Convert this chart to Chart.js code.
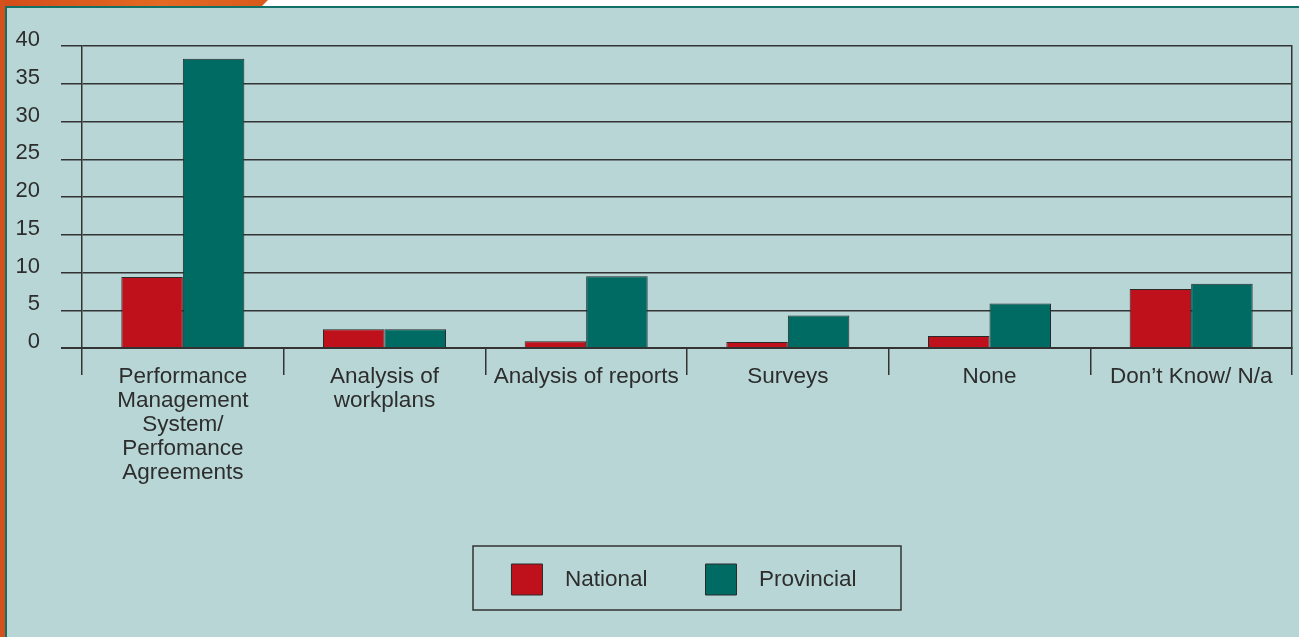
<!DOCTYPE html>
<html lang="en">
<head>
    <meta charset="utf-8">
    <title>Performance monitoring methods</title>
    <script src="https://cdn.jsdelivr.net/npm/chart.js"></script>
    <style>
        body { margin: 0; width: 1299px; height: 637px; overflow: hidden; background: #ffffff; position: relative; }
        #orange-top { position: absolute; left: 0; top: 0; width: 268px; height: 8px;
            background: linear-gradient(90deg, #d24d1a, #e36a22 60%, #d95a1c);
            clip-path: polygon(0 0, 100% 0, 97% 100%, 0 100%); }
        #orange-left { position: absolute; left: 0; top: 0; width: 5px; height: 637px; background: #d4511b; }
        #panel { position: absolute; left: 5px; top: 6px; right: 0; bottom: 0;
            background: #b8d6d6; border-top: 2px solid #137067; border-left: 2px solid #137067; }
        #chart { position: absolute; left: 0; top: 0; }
    </style>
</head>
<body>
    <div id="orange-top"></div>
    <div id="orange-left"></div>
    <div id="panel"></div>
    <canvas id="chart" width="1299" height="637"></canvas>
    <script>
        const categories = [
            ['Performance', 'Management', 'System/', 'Perfomance', 'Agreements'],
            ['Analysis of', 'workplans'],
            'Analysis of reports',
            'Surveys',
            'None',
            'Don\u2019t Know/ N/a'
        ];
        const nationalValues = [9.4, 2.5, 0.9, 0.8, 1.6, 7.8];
        const provincialValues = [38.3, 2.5, 9.5, 4.3, 5.9, 8.5];

        const fontFamily = "'Liberation Sans', Arial, sans-serif";
        const inkColor = '#2d2d2d';
        const lineColor = '#333333';

        // keeps the legend centred on the plot and draws the frame round it
        const legendFrame = {
            id: 'legendFrame',
            afterLayout(chart) {
                const lg = chart.legend;
                const ca = chart.chartArea;
                const shift = (ca.left + ca.right) / 2 - 3 - (lg.left + lg.right) / 2;
                lg.left += shift;
                lg.right += shift;
            },
            afterDraw(chart) {
                const lg = chart.legend;
                const ca = chart.chartArea;
                const cx = (ca.left + ca.right) / 2;
                const top = lg.top + lg.options.labels.padding - 18;
                const ctx = chart.ctx;
                ctx.save();
                ctx.strokeStyle = lineColor;
                ctx.lineWidth = 1.5;
                ctx.strokeRect(cx - 214, top, 428, 64);
                ctx.restore();
            }
        };

        let ctx = document.getElementById('chart').getContext('2d');
        let chart = new Chart(ctx, {
            type: 'bar',
            data: {
                labels: categories,
                datasets: [{
                    label: 'National',
                    data: nationalValues,
                    backgroundColor: '#be111b',
                    borderColor: '#2a2a2a',
                    borderWidth: 1
                }, {
                    label: 'Provincial',
                    data: provincialValues,
                    backgroundColor: '#006b63',
                    borderColor: '#2a2a2a',
                    borderWidth: 1
                }]
            },
            options: {
                responsive: false,
                animation: false,
                layout: { padding: { top: 46, right: 7, bottom: 32, left: 0 } },
                datasets: {
                    bar: { categoryPercentage: 0.61, barPercentage: 1.0 }
                },
                scales: {
                    x: {
                        afterFit(scale) { scale.height = 158; },
                        grid: {
                            offset: true,
                            drawOnChartArea: false,
                            tickLength: 27,
                            color: lineColor,
                            lineWidth: 1.5
                        },
                        border: { display: true, color: lineColor, width: 2 },
                        ticks: {
                            autoSkip: false,
                            maxRotation: 0,
                            padding: -10,
                            color: inkColor,
                            font: { family: fontFamily, size: 22.5, lineHeight: 1.067 }
                        }
                    },
                    y: {
                        min: 0,
                        max: 40,
                        afterFit(scale) { scale.width = 82; },
                        grid: {
                            tickLength: 21,
                            color: lineColor,
                            lineWidth: (c) => (c.tick && c.tick.value === 0 ? 2 : 1.5)
                        },
                        border: { display: true, color: lineColor, width: 1.5 },
                        ticks: {
                            stepSize: 5,
                            padding: 21,
                            labelOffset: -6,
                            color: inkColor,
                            font: { family: fontFamily, size: 22 }
                        }
                    },
                    yRight: {
                        position: 'right',
                        min: 0,
                        max: 40,
                        grid: { drawOnChartArea: false, drawTicks: false },
                        border: { display: true, color: lineColor, width: 1.5 },
                        ticks: { display: false }
                    }
                },
                plugins: {
                    tooltip: { enabled: false },
                    legend: {
                        position: 'bottom',
                        labels: {
                            boxWidth: 31,
                            boxHeight: 31,
                            padding: 58,
                            color: inkColor,
                            font: { family: fontFamily, size: 22.5 },
                            generateLabels(c) {
                                return Chart.defaults.plugins.legend.labels.generateLabels(c)
                                    .map(item => Object.assign(item, { text: '\u2002' + item.text }));
                            }
                        }
                    }
                }
            },
            plugins: [legendFrame]
        });
    </script>
</body>
</html>
